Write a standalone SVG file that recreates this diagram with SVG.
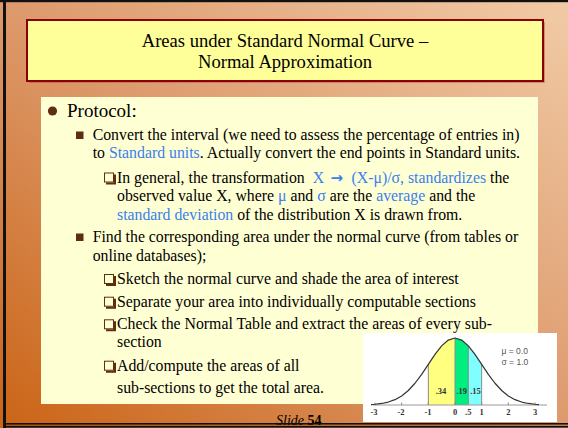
<svg xmlns="http://www.w3.org/2000/svg" width="568" height="428" viewBox="0 0 568 428">
<defs>
<linearGradient id="bg" x1="0" y1="1" x2="1" y2="0">
<stop offset="0" stop-color="#cb6416"/>
<stop offset="0.5" stop-color="#dd9a6c"/>
<stop offset="1" stop-color="#f1cba6"/>
</linearGradient>
<g id="chk">
<rect x="0.5" y="0.5" width="9" height="9" fill="none" stroke="#5e2e10" stroke-width="1"/>
<path d="M10 2 H12 V12 H2 V10 H10 Z" fill="#5e2e10"/>
</g>
</defs>
<style>
.t{font-family:"Liberation Serif","Times New Roman",serif;fill:#000}
.b{font-size:15.8px}
.blue{fill:#3a80f0}
.ax{font-family:"Liberation Serif","Times New Roman",serif;font-size:8.5px;font-weight:bold;fill:#333;text-anchor:middle}
.bul{fill:#5e2e10}
.par{font-family:"Liberation Sans",Arial,sans-serif;font-size:8.5px;fill:#555}
</style>
<rect x="0" y="0" width="568" height="428" fill="url(#bg)"/>

<g id="title">
<rect x="29" y="22" width="516" height="61" fill="#b34a4a" opacity="0.45"/>
<rect x="27" y="20" width="516" height="61" fill="#ffff99" stroke="#8b0000" stroke-width="2"/>
<text class="t" x="285" y="46.5" font-size="18.6" text-anchor="middle">Areas under Standard Normal Curve –</text>
<text class="t" x="285" y="67.5" font-size="18.6" text-anchor="middle">Normal Approximation</text>
</g>

<g id="content">
<rect x="41" y="97" width="497" height="307" fill="#ffffd4"/>
<circle class="bul" cx="52.5" cy="111" r="4.6"/>
<text class="t" x="67" y="117" font-size="19">Protocol:</text>

<rect class="bul" x="76" y="131.5" width="7.5" height="7.5"/>
<text class="t b" x="92.7" y="140">Convert the interval (we need to assess the percentage of entries in)</text>
<text class="t b" x="92.7" y="158">to <tspan class="blue">Standard units</tspan>. Actually convert the end points in Standard units.</text>

<use href="#chk" x="104" y="172.5"/>
<text class="t b" x="117" y="182.5">In general, the transformation <tspan class="blue" x="312.7">X</tspan><tspan class="blue" x="330.5" font-family="DejaVu Sans, sans-serif" font-size="15" font-weight="bold">→</tspan><tspan class="blue" x="351.5">(X-μ)/σ, standardizes</tspan> the</text>
<text class="t b" x="117" y="201">observed value X, where <tspan class="blue">μ</tspan> and <tspan class="blue">σ</tspan> are the <tspan class="blue">average</tspan> and the</text>
<text class="t b" x="117" y="219.5"><tspan class="blue">standard deviation</tspan> of the distribution X is drawn from.</text>

<rect class="bul" x="76" y="233.5" width="7.5" height="7.5"/>
<text class="t b" x="92.7" y="242">Find the corresponding area under the normal curve (from tables or</text>
<text class="t b" x="92.7" y="260.7">online databases);</text>

<use href="#chk" x="104" y="274"/>
<text class="t b" x="117" y="284">Sketch the normal curve and shade the area of interest</text>
<use href="#chk" x="104" y="296.7"/>
<text class="t b" x="117" y="306.7">Separate your area into individually computable sections</text>
<use href="#chk" x="104" y="319.3"/>
<text class="t b" x="117" y="329.3">Check the Normal Table and extract the areas of every sub-</text>
<text class="t b" x="117" y="347.3">section</text>
<use href="#chk" x="104" y="360.7"/>
<text class="t b" x="117" y="370.7">Add/compute the areas of all</text>
<text class="t b" x="117" y="392.7">sub-sections to get the total area.</text>
</g>

<g id="slide-number">
<text class="t" x="276" y="424.5" font-size="14"><tspan font-style="italic">Slide</tspan> <tspan font-weight="bold">54</tspan></text>
</g>

<g id="normal-curve">
<rect x="363" y="333" width="194" height="89" fill="#ffffff"/>
<path d="M428.33 405 L428.33 364.36 L435 354.43 L441.67 345.87 L448.33 340.06 L455 338 L455 405 Z" fill="#ffff80"/>
<path d="M455 405 L455 338 L461.67 340.06 L468.33 345.87 L468.33 405 Z" fill="#00ee80"/>
<path d="M468.33 405 L468.33 345.87 L475 354.43 L481.67 364.36 L481.67 405 Z" fill="#80ffff"/>
<g stroke="#8a8a8a" stroke-width="1">
<line x1="428.33" y1="405" x2="428.33" y2="364.4"/>
<line x1="455" y1="405" x2="455" y2="338"/>
<line x1="468.33" y1="405" x2="468.33" y2="345.9"/>
<line x1="481.67" y1="405" x2="481.67" y2="364.4"/>
<line x1="373" y1="405" x2="547" y2="405" stroke="#999"/>
<line x1="375" y1="405" x2="375" y2="402.5"/>
<line x1="401.67" y1="405" x2="401.67" y2="402.5"/>
<line x1="428.33" y1="405" x2="428.33" y2="402.5"/>
<line x1="455" y1="405" x2="455" y2="402.5"/>
<line x1="481.67" y1="405" x2="481.67" y2="402.5"/>
<line x1="508.33" y1="405" x2="508.33" y2="402.5"/>
<line x1="535" y1="405" x2="535" y2="402.5"/>
</g>
<path d="M371 404.6 L375 404.26 L381.66 403.47 L388.33 402.06 L394.99 399.67 L401.66 395.93 L408.33 390.51 L415 383.25 L421.66 374.33 L428.33 364.36 L435 354.43 L441.67 345.87 L448.33 340.06 L455 338 L461.67 340.06 L468.33 345.87 L475 354.43 L481.67 364.36 L488.33 374.33 L495 383.25 L501.67 390.51 L508.33 395.93 L515 399.67 L521.66 402.06 L528.33 403.47 L535 404.26 L539 404.6" fill="none" stroke="#333" stroke-width="1.2" stroke-linejoin="round"/>
<text class="ax" x="441" y="394">.34</text>
<text class="ax" x="461.7" y="394">.19</text>
<text class="ax" x="475.5" y="394">.15</text>
<text class="ax" x="374" y="415">-3</text>
<text class="ax" x="401" y="415">-2</text>
<text class="ax" x="428" y="415">-1</text>
<text class="ax" x="455" y="415">0</text>
<text class="ax" x="468.3" y="415">.5</text>
<text class="ax" x="481.7" y="415">1</text>
<text class="ax" x="508.3" y="415">2</text>
<text class="ax" x="535" y="415">3</text>
<text class="par" x="501.5" y="353.5">μ = 0.0</text>
<text class="par" x="501.5" y="365">σ = 1.0</text>
</g>

<g id="frame">
<rect x="0" y="0" width="568" height="2.2" fill="#111"/>
<rect x="3" y="0" width="3" height="428" fill="#111"/>
<rect x="3" y="423" width="565" height="1.6" fill="#111"/>
<rect x="3" y="425.8" width="565" height="1.8" fill="#111"/>
</g>
</svg>
